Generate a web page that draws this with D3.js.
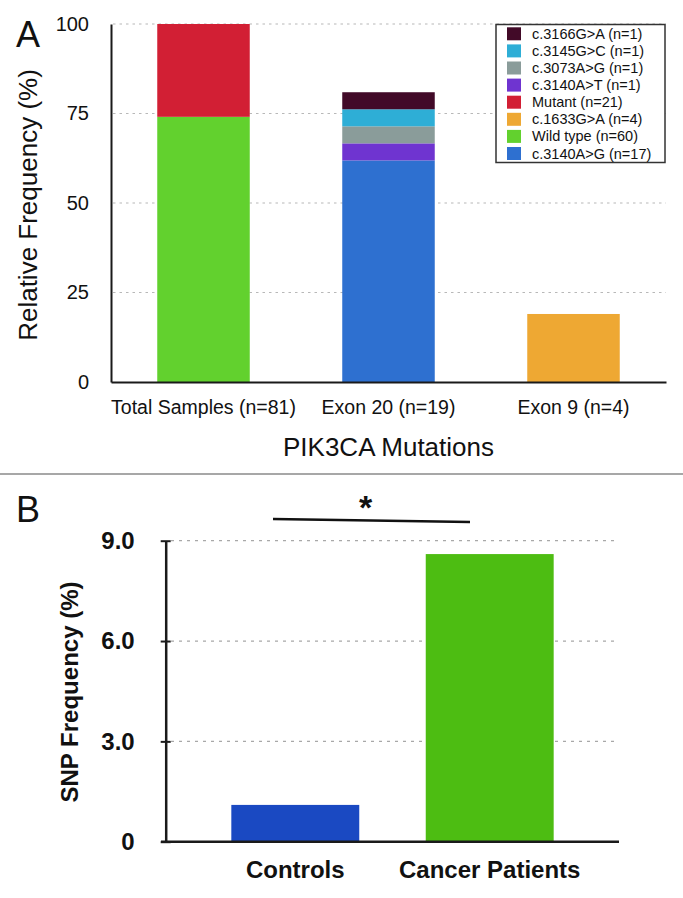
<!DOCTYPE html>
<html>
<head>
<meta charset="utf-8">
<script src="https://cdn.jsdelivr.net/npm/d3@7/dist/d3.min.js"></script>
<style>
  html, body { margin: 0; padding: 0; background: #fff; }
  svg { display: block; font-family: "Liberation Sans", Arial, Helvetica, sans-serif; }
</style>
</head>
<body>
<script>
// ---------- Panel A data ----------
const categoriesA = ["Total Samples (n=81)", "Exon 20 (n=19)", "Exon 9 (n=4)"];
// stacking order bottom -> top
const seriesKeysA = [
  "c.3140A>G (n=17)", "Wild type (n=60)", "c.1633G>A (n=4)", "Mutant (n=21)",
  "c.3140A>T (n=1)", "c.3073A>G (n=1)", "c.3145G>C (n=1)", "c.3166G>A (n=1)"
];
const c3140AG = [0, 61.9, 0];
const wildType = [74.07, 0, 0];
const c1633GA = [0, 0, 19.0];
const mutant = [25.93, 0, 0];
const c3140AT = [0, 4.76, 0];
const c3073AG = [0, 4.76, 0];
const c3145GC = [0, 4.76, 0];
const c3166GA = [0, 4.76, 0];
const seriesColorsA = ["#2e70d0", "#62d12e", "#eea833", "#d21f34", "#6f34d0", "#8a9c9a", "#2eaed6", "#420a28"];
const ticksA = [0, 25, 50, 75, 100];

// ---------- Panel B data ----------
const categoriesB = ["Controls", "Cancer Patients"];
const snpValues = [1.1, 8.6];
const barColorsB = ["#1a49c2", "#4dbd12"];
const ticksB = [0, 3, 6, 9];

const W = 683, H = 898;
const svg = d3.select("body").append("svg").attr("width", W).attr("height", H);

// ================= PANEL A =================
const xA = d3.scaleBand().domain(categoriesA).range([111, 666]).paddingInner(0.5).paddingOuter(0.25);
const yA = d3.scaleLinear().domain([0, 100]).range([382, 24]);

// gridlines
svg.append("g").selectAll("line").data(ticksA.filter(t => t > 0)).join("line")
  .attr("x1", 113).attr("x2", 666)
  .attr("y1", d => yA(d)).attr("y2", d => yA(d))
  .attr("stroke", "#b8b8b8").attr("stroke-width", 1.2).attr("stroke-dasharray", "2.5,4");

const arraysA = [c3140AG, wildType, c1633GA, mutant, c3140AT, c3073AG, c3145GC, c3166GA];
const tableA = categoriesA.map((c, i) => {
  const row = { cat: c };
  seriesKeysA.forEach((k, j) => row[k] = arraysA[j][i]);
  return row;
});
const stackA = d3.stack().keys(seriesKeysA)(tableA);
const colorA = d3.scaleOrdinal().domain(seriesKeysA).range(seriesColorsA);

svg.append("g").selectAll("g").data(stackA).join("g")
  .attr("fill", d => colorA(d.key))
  .selectAll("rect").data(d => d.filter(s => s[1] - s[0] > 0)).join("rect")
  .attr("x", d => xA(d.data.cat))
  .attr("width", xA.bandwidth())
  .attr("y", d => yA(d[1]))
  .attr("height", d => yA(d[0]) - yA(d[1]));

// y axis
const yAxisA = svg.append("g").attr("transform", "translate(111,0)")
  .call(d3.axisLeft(yA).tickValues(ticksA).tickSize(0).tickPadding(22));
yAxisA.select(".domain").attr("stroke", "#1a1a1a").attr("stroke-width", 2);
yAxisA.selectAll("text").attr("font-size", 20).attr("fill", "#111").attr("font-family", "Liberation Sans, Arial, sans-serif");

// x axis
const xAxisA = svg.append("g").attr("transform", "translate(0,382)")
  .call(d3.axisBottom(xA).tickSize(0).tickSizeOuter(0).tickPadding(18));
xAxisA.select(".domain").attr("stroke", "#1a1a1a").attr("stroke-width", 2.2);
xAxisA.selectAll("text").attr("font-size", 19.5).attr("fill", "#111").attr("font-family", "Liberation Sans, Arial, sans-serif");

// axis titles
svg.append("text").attr("transform", "translate(37,205) rotate(-90)")
  .attr("text-anchor", "middle").attr("font-size", 26).attr("fill", "#111")
  .text("Relative Frequency (%)");
svg.append("text").attr("x", (111 + 666) / 2).attr("y", 456)
  .attr("text-anchor", "middle").attr("font-size", 26).attr("fill", "#111")
  .text("PIK3CA Mutations");
svg.append("text").attr("x", 16).attr("y", 47).attr("font-size", 36).attr("fill", "#111").text("A");

// legend
const legendKeys = seriesKeysA.slice().reverse();
const leg = svg.append("g");
leg.append("rect").attr("x", 496).attr("y", 24.5).attr("width", 169).attr("height", 138)
  .attr("fill", "#fff").attr("stroke", "#333").attr("stroke-width", 1.5);
const legRows = leg.selectAll("g.row").data(legendKeys).join("g").attr("class", "row")
  .attr("transform", (d, i) => `translate(0,${33.8 + i * 17.1})`);
legRows.append("rect").attr("x", 507).attr("y", -6.5).attr("width", 14).attr("height", 13)
  .attr("fill", d => colorA(d));
legRows.append("text").attr("x", 532).attr("y", 5).attr("font-size", 14.5).attr("fill", "#111").text(d => d);

// separator
svg.append("line").attr("x1", 0).attr("x2", W).attr("y1", 474).attr("y2", 474)
  .attr("stroke", "#8a8a8a").attr("stroke-width", 1.5);

// ================= PANEL B =================
const xB = d3.scaleBand().domain(categoriesB).range([166, 619]).paddingInner(0.342).paddingOuter(0.336);
const yB = d3.scaleLinear().domain([0, 9]).range([841.7, 540.7]);

svg.append("g").selectAll("line").data(ticksB.filter(t => t > 0)).join("line")
  .attr("x1", 171).attr("x2", 618)
  .attr("y1", d => yB(d)).attr("y2", d => yB(d))
  .attr("stroke", "#a8a8a8").attr("stroke-width", 1.3).attr("stroke-dasharray", "3,5");

svg.append("g").selectAll("rect").data(categoriesB).join("rect")
  .attr("x", d => xB(d)).attr("width", xB.bandwidth())
  .attr("y", (d, i) => yB(snpValues[i]))
  .attr("height", (d, i) => yB(0) - yB(snpValues[i]))
  .attr("fill", (d, i) => barColorsB[i]);

const yAxisB = svg.append("g").attr("transform", "translate(165.7,0)")
  .call(d3.axisLeft(yB).tickValues(ticksB).tickSizeInner(5).tickSizeOuter(0).tickPadding(26)
    .tickFormat(d => d === 0 ? "0" : d.toFixed(1)));
yAxisB.select(".domain").attr("stroke", "#1a1a1a").attr("stroke-width", 2.5);
yAxisB.selectAll(".tick line").attr("x1", 5).attr("x2", -5).attr("stroke", "#1a1a1a").attr("stroke-width", 2);
yAxisB.selectAll("text").attr("font-size", 24).attr("font-weight", "bold").attr("fill", "#111")
  .attr("font-family", "Liberation Sans, Arial, sans-serif");

const xAxisB = svg.append("g").attr("transform", "translate(0,841.7)")
  .call(d3.axisBottom(xB).tickSize(0).tickSizeOuter(0).tickPadding(19));
xAxisB.select(".domain").attr("d", "M161,0H619").attr("stroke", "#1a1a1a").attr("stroke-width", 2.5);
xAxisB.selectAll("text").attr("font-size", 24).attr("font-weight", "bold").attr("fill", "#111")
  .attr("font-family", "Liberation Sans, Arial, sans-serif");

svg.append("text").attr("transform", "translate(78,692) rotate(-90)")
  .attr("text-anchor", "middle").attr("font-size", 24).attr("font-weight", "bold").attr("fill", "#111")
  .text("SNP Frequency (%)");
svg.append("text").attr("x", 16).attr("y", 522).attr("font-size", 36).attr("fill", "#111").text("B");

// significance bar
svg.append("line").attr("x1", 273).attr("y1", 519).attr("x2", 470).attr("y2", 522)
  .attr("stroke", "#111").attr("stroke-width", 2.5);
svg.append("text").attr("x", 365.5).attr("y", 519).attr("text-anchor", "middle")
  .attr("font-size", 34).attr("font-weight", "bold").attr("fill", "#111").text("*");
</script>
</body>
</html>
